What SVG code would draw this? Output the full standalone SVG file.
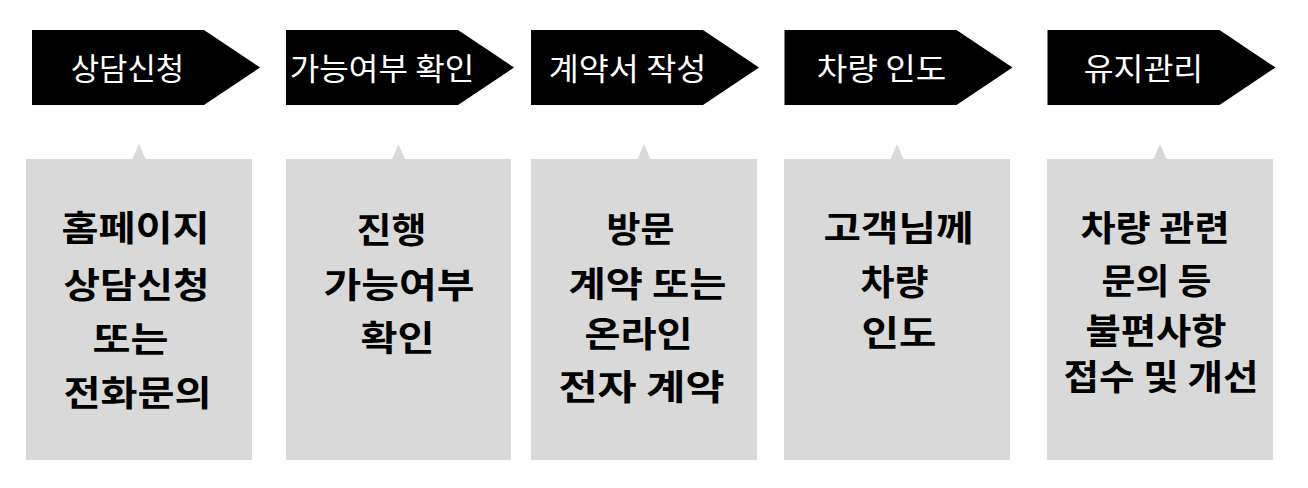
<svg xmlns="http://www.w3.org/2000/svg" width="1308" height="488" viewBox="0 0 1308 488">
<style>
.hd{fill:#000}
.bx{fill:#d9d9d9}
.ht{fill:#fff;font-family:"Noto Sans CJK KR","Noto Sans",sans-serif;font-size:31px;font-weight:400;text-anchor:middle}
.bt{fill:#000;font-family:"Noto Sans CJK KR","Noto Sans",sans-serif;font-size:35px;font-weight:700;text-anchor:middle}
</style>
<rect width="1308" height="488" fill="#fff"/>
<g id="step1">
<path class="hd" d="M32 30 H204 L260 67.5 L204 105 H32 Z"/>
<text class="ht" x="127.5" y="80" textLength="113.5" lengthAdjust="spacingAndGlyphs">상담신청</text>
</g>
<g id="step2">
<path class="hd" d="M286 30 H458 L514 67.5 L458 105 H286 Z"/>
<text class="ht" x="382" y="80" textLength="184.5" lengthAdjust="spacingAndGlyphs">가능여부 확인</text>
</g>
<g id="step3">
<path class="hd" d="M531 30 H703 L759 67.5 L703 105 H531 Z"/>
<text class="ht" x="627.5" y="80" textLength="157.5" lengthAdjust="spacingAndGlyphs">계약서 작성</text>
</g>
<g id="step4">
<path class="hd" d="M784.5 30 H956.5 L1012.5 67.5 L956.5 105 H784.5 Z"/>
<text class="ht" x="881.5" y="80" textLength="129.5" lengthAdjust="spacingAndGlyphs">차량 인도</text>
</g>
<g id="step5">
<path class="hd" d="M1047.5 30 H1219.5 L1275.5 67.5 L1219.5 105 H1047.5 Z"/>
<text class="ht" x="1143.5" y="80" textLength="119.5" lengthAdjust="spacingAndGlyphs">유지관리</text>
</g>
<g id="detail1">
<path class="bx" d="M26 159 H132.5 L139 144 L145.5 159 H252 V460 H26 Z"/>
<text class="bt" x="135.5" y="241" textLength="148" lengthAdjust="spacingAndGlyphs">홈페이지</text>
<text class="bt" x="136.5" y="298" textLength="146" lengthAdjust="spacingAndGlyphs">상담신청</text>
<text class="bt" x="130.5" y="352" textLength="76" lengthAdjust="spacingAndGlyphs">또는</text>
<text class="bt" x="137.5" y="406" textLength="148" lengthAdjust="spacingAndGlyphs">전화문의</text>
</g>
<g id="detail2">
<path class="bx" d="M286 159 H392 L398.5 144 L405 159 H511 V460 H286 Z"/>
<text class="bt" x="391.5" y="243" textLength="70" lengthAdjust="spacingAndGlyphs">진행</text>
<text class="bt" x="399" y="298" textLength="151" lengthAdjust="spacingAndGlyphs">가능여부</text>
<text class="bt" x="397.5" y="351" textLength="74" lengthAdjust="spacingAndGlyphs">확인</text>
</g>
<g id="detail3">
<path class="bx" d="M531 159 H637.5 L644 144 L650.5 159 H757 V460 H531 Z"/>
<text class="bt" x="640.5" y="242" textLength="68" lengthAdjust="spacingAndGlyphs">방문</text>
<text class="bt" x="647.5" y="297" textLength="158" lengthAdjust="spacingAndGlyphs">계약 또는</text>
<text class="bt" x="638.5" y="347" textLength="108" lengthAdjust="spacingAndGlyphs">온라인</text>
<text class="bt" x="641.5" y="400" textLength="166" lengthAdjust="spacingAndGlyphs">전자 계약</text>
</g>
<g id="detail4">
<path class="bx" d="M784 159 H890.5 L897 144 L903.5 159 H1010 V460 H784 Z"/>
<text class="bt" x="898.5" y="241" textLength="150" lengthAdjust="spacingAndGlyphs">고객님께</text>
<text class="bt" x="894.5" y="295" textLength="68" lengthAdjust="spacingAndGlyphs">차량</text>
<text class="bt" x="899" y="346" textLength="75" lengthAdjust="spacingAndGlyphs">인도</text>
</g>
<g id="detail5">
<path class="bx" d="M1047 159 H1153.5 L1160 144 L1166.5 159 H1273 V460 H1047 Z"/>
<text class="bt" x="1155" y="241" textLength="149" lengthAdjust="spacingAndGlyphs">차량 관련</text>
<text class="bt" x="1156.5" y="294" textLength="110" lengthAdjust="spacingAndGlyphs">문의 등</text>
<text class="bt" x="1156" y="344" textLength="141" lengthAdjust="spacingAndGlyphs">불편사항</text>
<text class="bt" x="1161" y="390" textLength="195" lengthAdjust="spacingAndGlyphs">접수 및 개선</text>
</g>
<g id="connectors"/>
</svg>
